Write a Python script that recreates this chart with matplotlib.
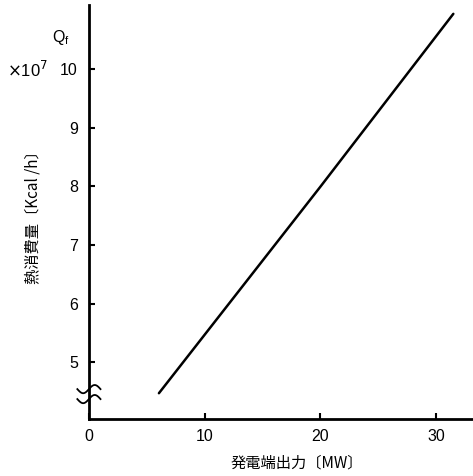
import numpy as np
import matplotlib.pyplot as plt

plt.rcParams['font.family'] = ['Liberation Sans', 'Noto Sans CJK JP']

# data
output_mw = [6.05, 20.0, 31.5]
heat_q = [4.47, 7.99, 10.94]

x_ticks = [0, 10, 20, 30]
y_ticks = [5, 6, 7, 8, 9, 10]

fig = plt.figure(figsize=(4.73, 4.76), dpi=100)
ax = fig.add_axes([0.188, 0.1197, 0.812, 0.8697])

ax.plot(output_mw, heat_q, color='black', lw=1.8, solid_capstyle='round')

ax.set_xlim(0, 33.2)
ax.set_ylim(4.03, 11.09)

for s in ['top', 'right']:
    ax.spines[s].set_visible(False)
for s in ['left', 'bottom']:
    ax.spines[s].set_linewidth(2.0)

ax.set_xticks(x_ticks)
ax.set_yticks(y_ticks)
ax.set_xticklabels([str(t) for t in x_ticks])
ax.set_yticklabels([str(t) for t in y_ticks])
ax.tick_params(direction='in', length=4, width=1.5, labelsize=11.5, pad=7)
ax.tick_params(axis='y', pad=8)
for lab in ax.get_yticklabels():
    lab.set_va('top')
    lab.set_y(lab.get_position()[1])
ax.tick_params(axis='y', labelrotation=0)
for lab in ax.get_yticklabels():
    lab.set_verticalalignment('center_baseline')

# axis break squiggles
t = np.linspace(-1.0, 1.0, 40)
for y0 in [4.37, 4.54]:
    ax.plot(t, y0 + 0.07 * np.sin(t * np.pi), color='black', lw=1.3, clip_on=False)

# labels
fig.text(0.628, 0.027, '発電端出力〔MW〕', ha='center', va='center', fontsize=11,
         family=['Noto Sans CJK JP', 'DejaVu Sans'])
fig.text(0.07, 0.552, '熱消費量〔Kcal /h〕', ha='center', va='center', rotation=90,
         fontsize=11, family=['Noto Sans CJK JP', 'DejaVu Sans'])
fig.text(0.11, 0.922, r'Q$_\mathregular{f}$', ha='left', va='center', fontsize=11.5)
fig.text(0.015, 0.852, r'$\times$10$^{7}$', ha='left', va='center', fontsize=12)

fig.savefig('out.png', dpi=100)
